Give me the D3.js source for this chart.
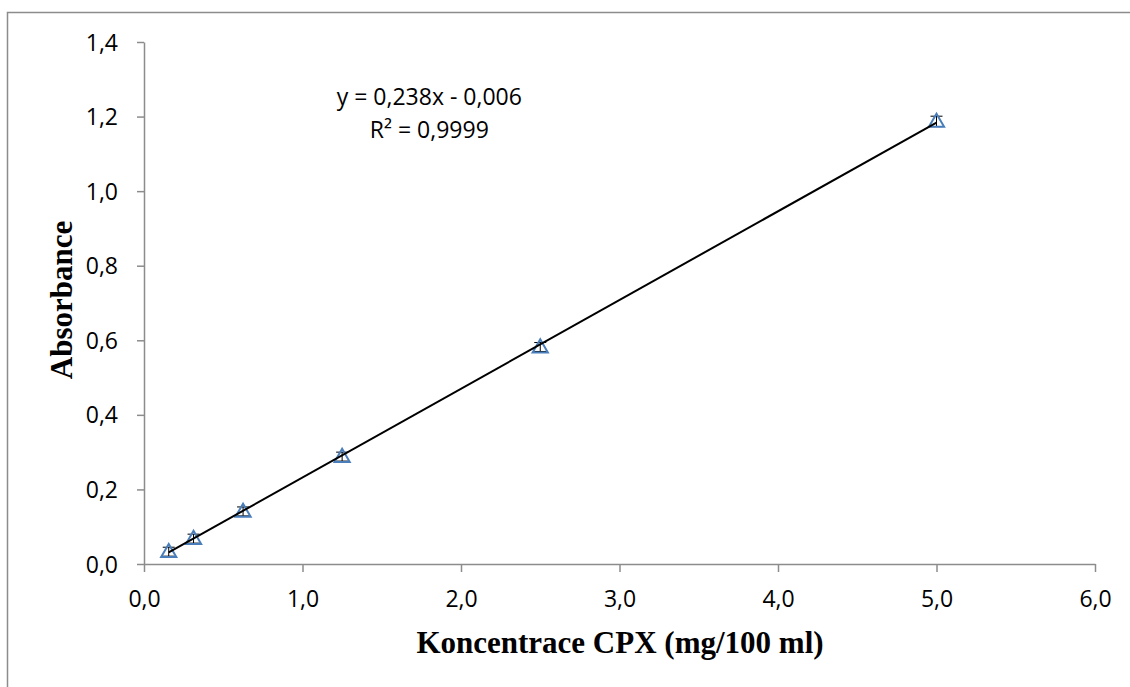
<!DOCTYPE html>
<html>
<head>
<meta charset="utf-8">
<script src="https://cdn.jsdelivr.net/npm/d3@7"></script>
<style>
  body { margin: 0; background: #fff; }
  svg { display: block; }
</style>
</head>
<body>
<div id="chart"></div>
<script>
// data
const concentrations = [0.156, 0.3125, 0.625, 1.25, 2.5, 5.0];
const absorbances = [0.033, 0.068, 0.141, 0.288, 0.582, 1.187];
const errors = [0.012, 0.012, 0.012, 0.012, 0.012, 0.014];
const xTicks = [0, 1, 2, 3, 4, 5, 6];
const yTicks = [0, 0.2, 0.4, 0.6, 0.8, 1.0, 1.2, 1.4];
const slope = 0.238, intercept = -0.006;
const eqLabel = "y = 0,238x - 0,006";
const r2Label = "R² = 0,9999";

const W = 1130, H = 687;
const margin = { top: 42, right: 35, bottom: 123, left: 144 };
const width = W - margin.left - margin.right;
const height = H - margin.top - margin.bottom;
const fmt = d => d3.format(".1f")(d).replace(".", ",");
const sansFont = "'Open Sans', 'Noto Sans', sans-serif";
const serifFont = "'Liberation Serif', 'Times New Roman', serif";

const root = d3.select("#chart").append("svg")
  .attr("width", W).attr("height", H);

// outer chart frame (runs off the right and bottom)
root.append("rect")
  .attr("x", 7.5).attr("y", 12.5)
  .attr("width", 1200).attr("height", 800)
  .attr("fill", "none").attr("stroke", "#8c8c8c").attr("stroke-width", 1.5);

const svg = root.append("g")
  .attr("transform", `translate(${margin.left},${margin.top})`);

const x = d3.scaleLinear().domain([0, 6]).range([0, width]);
const y = d3.scaleLinear().domain([0, 1.4]).range([height, 0]);

const xAxis = svg.append("g")
  .attr("transform", `translate(0,${height})`)
  .call(d3.axisBottom(x).tickValues(xTicks).tickFormat(fmt).tickSize(8).tickSizeOuter(0).tickPadding(19));
const yAxis = svg.append("g")
  .call(d3.axisLeft(y).tickValues(yTicks).tickFormat(fmt).tickSize(7).tickSizeOuter(0).tickPadding(19));

[xAxis, yAxis].forEach(a => {
  a.attr("font-size", null).attr("font-family", null);
  a.selectAll("path, line").attr("stroke", "#8c8c8c").attr("stroke-width", 1.5);
  a.selectAll("text")
    .attr("fill", "#000")
    .style("font-family", sansFont)
    .style("font-size", "23px");
});
yAxis.selectAll("text").attr("dy", "0.35em");

// error bars
const eb = svg.selectAll(".err").data(concentrations).enter().append("g");
eb.append("line")
  .attr("x1", d => x(d)).attr("x2", d => x(d))
  .attr("y1", (d, i) => y(absorbances[i] - errors[i]))
  .attr("y2", (d, i) => y(absorbances[i] + errors[i]))
  .attr("stroke", "#000").attr("stroke-width", 1);
[1, -1].forEach(s => {
  eb.append("line")
    .attr("x1", d => x(d) - 6).attr("x2", d => x(d) + 6)
    .attr("y1", (d, i) => y(absorbances[i] + s * errors[i]))
    .attr("y2", (d, i) => y(absorbances[i] + s * errors[i]))
    .attr("stroke", "#000").attr("stroke-width", 1);
});

// triangle markers
const tri = d3.symbol().type(d3.symbolTriangle).size(100);
svg.selectAll(".pt").data(concentrations).enter().append("path")
  .attr("d", tri)
  .attr("transform", (d, i) => `translate(${x(d)},${y(absorbances[i]) + 1})`)
  .attr("fill", "none").attr("stroke", "#4a7ebb").attr("stroke-width", 2);

// trendline
const line = d3.line().x(d => x(d)).y(d => y(slope * d + intercept));
svg.append("path")
  .datum([concentrations[0], concentrations[concentrations.length - 1]])
  .attr("d", line)
  .attr("fill", "none").attr("stroke", "#000").attr("stroke-width", 2);

// equation
const eq = svg.append("text")
  .attr("text-anchor", "middle")
  .attr("fill", "#000")
  .style("font-family", sansFont)
  .style("font-size", "23px");
eq.append("tspan").attr("x", x(1.8)).attr("y", 63).text(eqLabel);
eq.append("tspan").attr("x", x(1.8)).attr("y", 96).text(r2Label);

// axis titles
svg.append("text")
  .attr("x", 620 - margin.left).attr("y", height + 89)
  .attr("text-anchor", "middle")
  .style("font-family", serifFont)
  .style("font-weight", "bold").style("font-size", "31px")
  .text("Koncentrace CPX (mg/100 ml)");

svg.append("text")
  .attr("transform", "rotate(-90)")
  .attr("x", -(300 - margin.top)).attr("y", 72 - margin.left)
  .attr("text-anchor", "middle")
  .style("font-family", serifFont)
  .style("font-weight", "bold").style("font-size", "31px")
  .text("Absorbance");
</script>
</body>
</html>
